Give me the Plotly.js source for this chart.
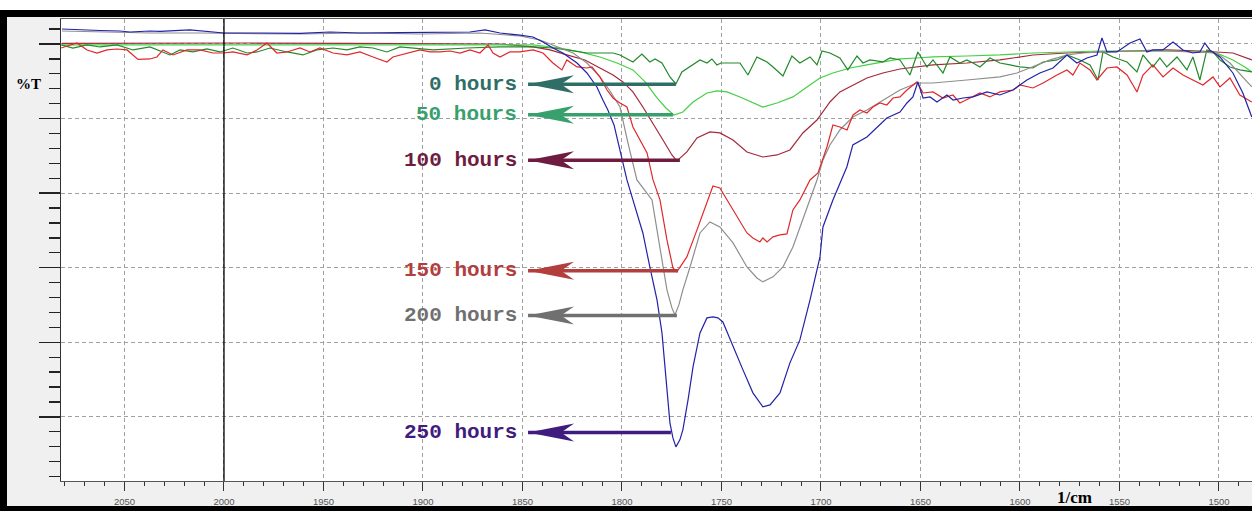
<!DOCTYPE html>
<html>
<head>
<meta charset="utf-8">
<script src="https://cdn.plot.ly/plotly-3.0.1.min.js"></script>
<style>
  html, body { margin:0; padding:0; background:#ffffff; width:1252px; height:511px; overflow:hidden; }
  #wrap { position:absolute; top:10px; left:0; width:1245px; height:489px;
          border-left:7px solid #000; border-top:7px solid #000; border-bottom:5px solid #000; }
  #plot { width:1245px; height:489px; }
</style>
</head>
<body>
<div id="wrap"><div id="plot"></div></div>
<script>
// ---- Data (wavenumber in 1/cm, transmittance in arbitrary %T) ----
const labels = ['0 hours', '50 hours', '100 hours', '150 hours', '200 hours', '250 hours'];

const wn0 = [2081.9,2075.9,2068.8,2062.3,2053.8,2045.7,2037.2,2027.1,2022.1,2015.6,2008.6,2002.0,1995.5,1988.4,1983.4,1976.9,1968.3,1960.3,1953.3,1945.2,1938.2,1931.7,1925.1,1918.1,1911.6,1905.0,1895.0,1877.9,1861.3,1844.7,1834.7,1827.7,1817.6,1811.1,1804.5,1801.0,1794.5,1790.0,1786.0,1783.4,1779.9,1775.9,1772.9,1769.9,1766.8,1760.8,1757.3,1754.8,1752.3,1750.3,1740.7,1736.7,1732.2,1727.1,1724.1,1719.1,1714.6,1710.6,1705.5,1702.0,1699.5,1695.5,1690.5,1686.5,1681.9,1678.9,1675.4,1668.9,1665.3,1660.3,1655.3,1651.3,1646.7,1643.7,1638.7,1635.2,1630.2,1626.7,1623.6,1620.1,1615.1,1610.1,1605.0,1600.0,1593.5,1588.4,1581.4,1576.4,1569.9,1564.8,1560.8,1558.3,1553.3,1546.2,1541.2,1538.2,1533.2,1529.7,1526.2,1521.1,1516.1,1513.1,1509.6,1506.1,1503.0,1499.5,1494.5,1489.5,1483.5];
const t0  = [89.87,89.46,89.87,89.60,89.87,89.20,89.60,88.53,89.20,88.93,89.33,88.93,89.46,88.79,88.93,89.46,88.93,88.53,89.20,89.46,89.20,89.60,89.46,88.93,89.60,89.46,89.20,89.46,89.60,89.60,89.46,89.20,88.79,88.79,88.79,88.53,87.59,88.66,87.59,87.99,87.45,85.58,84.64,86.25,86.78,87.86,87.45,87.99,87.19,87.45,87.45,85.84,88.26,87.59,86.92,85.71,88.39,87.45,88.26,87.19,89.06,88.79,88.12,86.52,88.39,87.45,87.86,87.59,88.12,87.86,85.84,88.93,86.92,87.86,86.11,88.26,87.45,87.86,87.45,86.92,88.12,87.45,87.19,86.92,86.78,87.59,87.86,88.53,87.86,87.19,85.17,88.93,88.26,87.59,86.25,88.53,86.92,88.12,86.92,88.26,86.52,88.26,85.17,89.20,88.93,87.86,86.92,86.52,86.25];

const wn50 = [2081.4,2012.1,1911.6,1844.7,1831.2,1821.1,1811.1,1802.5,1794.5,1788.4,1782.4,1777.9,1773.9,1769.4,1764.3,1757.3,1752.3,1747.2,1740.7,1734.2,1729.2,1722.1,1714.1,1707.0,1700.5,1694.0,1685.4,1676.9,1668.9,1660.3,1651.8,1643.7,1626.7,1610.1,1593.5,1576.4,1559.8,1543.2,1526.2,1509.6,1501.1,1493.0,1487.0,1483.5];
const t50  = [89.87,89.87,89.87,89.87,89.46,88.93,88.26,87.45,86.52,84.91,82.76,81.42,80.48,80.88,82.22,83.43,83.70,83.57,82.90,82.09,81.55,82.09,82.90,84.24,85.44,86.11,86.78,87.19,87.59,87.99,88.12,88.26,88.39,88.53,88.79,88.93,89.06,89.06,89.06,88.93,88.79,87.86,86.92,86.25];

const wn100 = [2081.4,2037.2,1987.0,1936.7,1886.4,1861.3,1844.7,1836.2,1827.7,1818.6,1811.1,1804.5,1799.5,1794.5,1789.5,1784.4,1779.4,1774.9,1772.4,1767.4,1762.3,1755.8,1750.8,1744.2,1737.2,1729.2,1722.1,1715.6,1709.1,1702.0,1695.5,1690.5,1683.9,1676.9,1668.9,1660.3,1643.7,1626.7,1610.1,1593.5,1576.4,1559.8,1543.2,1526.2,1509.6,1501.1,1493.0,1483.5];
const t100  = [90.07,90.13,90.13,90.07,90.07,90.00,89.60,89.20,88.53,87.86,86.78,85.84,84.91,83.57,81.55,79.41,77.13,75.12,74.32,75.52,77.40,78.20,78.07,77.13,75.52,74.85,75.12,75.79,78.07,79.81,82.22,83.57,84.50,85.44,86.11,86.65,87.19,87.45,87.86,88.52,88.79,88.93,89.06,89.20,89.06,88.93,88.79,87.86];

const wn150 = [2081.9,2077.4,2073.9,2068.8,2063.8,2058.8,2053.8,2048.7,2043.2,2037.2,2033.7,2030.7,2025.6,2018.6,2012.1,2005.5,2000.5,1995.5,1988.4,1983.4,1978.4,1973.4,1968.3,1961.8,1956.8,1951.8,1945.2,1938.2,1931.7,1925.1,1918.1,1915.1,1908.0,1901.5,1896.5,1891.5,1886.4,1881.4,1876.4,1871.4,1867.3,1864.8,1861.3,1856.3,1851.3,1844.7,1839.7,1834.7,1830.2,1827.7,1822.6,1817.6,1815.1,1811.1,1807.5,1804.5,1801.0,1797.5,1794.5,1787.4,1784.4,1780.9,1777.4,1774.4,1772.4,1770.4,1767.4,1762.3,1757.3,1754.3,1750.8,1747.2,1744.2,1737.2,1734.2,1730.7,1729.2,1727.1,1724.1,1720.6,1717.1,1714.1,1710.6,1705.5,1701.5,1697.0,1694.0,1690.5,1686.9,1683.9,1680.4,1676.9,1673.9,1670.4,1666.9,1663.8,1660.3,1656.8,1651.8,1648.7,1643.7,1638.7,1633.7,1630.2,1625.1,1620.1,1615.1,1610.1,1603.5,1600.0,1593.5,1588.4,1581.4,1576.4,1573.4,1569.9,1564.8,1561.3,1556.3,1551.3,1546.2,1541.2,1538.2,1533.2,1528.1,1523.1,1518.1,1513.1,1508.1,1503.0,1499.5,1494.5,1489.5,1483.5];
const t150  = [89.46,89.87,90.13,89.20,88.79,89.20,89.33,89.20,87.94,87.99,88.26,89.20,88.53,89.20,89.20,88.79,88.79,88.93,88.53,89.20,90.13,88.79,88.93,89.46,88.93,89.46,88.79,88.53,88.93,88.26,87.59,88.26,88.79,89.20,88.93,88.93,89.06,88.79,89.20,88.79,89.87,88.79,88.26,88.93,88.93,89.20,88.79,87.45,86.52,87.86,86.92,86.78,86.92,85.58,83.83,82.76,82.09,81.55,78.87,75.39,71.77,69.09,63.73,59.97,59.44,60.24,61.45,65.07,68.69,70.96,70.70,69.09,67.75,64.66,63.99,63.46,63.99,63.46,64.13,64.40,64.53,67.75,69.09,71.77,72.71,76.19,79.14,78.87,78.47,80.48,81.15,80.75,81.55,82.09,81.82,82.76,82.90,83.83,84.91,83.43,83.57,82.76,83.16,82.09,82.76,83.43,82.90,83.57,83.83,84.50,84.10,84.77,85.84,86.51,85.84,87.45,86.51,85.17,86.78,86.92,85.84,83.57,85.84,87.19,85.58,86.78,85.84,85.17,84.50,85.58,84.24,85.44,83.16,82.22];

const wn200 = [2081.4,2062.3,2037.2,2012.1,1981.9,1961.8,1931.7,1901.5,1871.4,1851.3,1841.2,1832.7,1824.6,1817.6,1811.1,1806.0,1801.0,1797.0,1792.5,1784.9,1780.9,1777.4,1774.9,1773.4,1771.4,1769.4,1765.8,1760.8,1755.8,1750.8,1744.2,1737.2,1732.2,1729.2,1724.1,1719.1,1714.1,1709.1,1705.5,1702.0,1699.0,1695.5,1690.5,1684.0,1676.9,1668.9,1660.3,1651.8,1643.7,1626.7,1610.1,1601.5,1593.5,1584.9,1576.4,1568.4,1559.8,1543.2,1526.2,1509.6,1501.1,1494.5,1488.0,1483.5];
const t200  = [91.74,91.61,91.47,91.47,91.34,91.34,91.47,91.34,91.47,91.07,90.54,89.60,88.79,87.45,85.58,83.70,81.55,76.73,71.77,69.09,62.38,57.02,54.61,53.67,55.01,57.02,60.10,64.66,66.14,65.47,63.32,60.10,58.63,58.10,58.77,60.10,62.79,66.39,69.09,71.77,74.45,76.46,78.47,80.21,81.15,82.49,83.83,84.77,84.77,85.17,85.58,86.11,86.92,87.86,88.52,88.79,88.93,89.06,89.06,88.93,88.79,87.45,85.58,84.24];

const wn250 = [2081.4,2072.4,2062.3,2052.3,2047.2,2037.2,2032.2,2017.1,2000.0,1981.9,1961.8,1946.7,1931.7,1911.6,1895.0,1876.4,1868.8,1861.3,1851.3,1844.7,1839.7,1834.7,1829.7,1822.6,1817.6,1812.6,1809.6,1807.1,1804.0,1801.0,1797.5,1794.5,1789.5,1786.0,1782.4,1779.9,1778.4,1776.9,1775.9,1774.4,1772.9,1770.9,1769.4,1766.8,1764.3,1760.8,1757.3,1754.3,1751.8,1749.3,1744.2,1739.2,1734.2,1729.2,1725.6,1720.6,1715.6,1710.6,1705.5,1700.5,1699.0,1694.0,1687.0,1684.0,1676.9,1671.9,1666.9,1660.3,1656.8,1653.8,1651.3,1648.7,1645.2,1641.7,1636.7,1633.6,1628.6,1623.6,1616.6,1610.1,1603.5,1596.5,1590.0,1583.4,1576.4,1571.4,1566.4,1561.3,1558.8,1556.3,1551.3,1544.7,1539.7,1536.2,1533.2,1528.2,1523.1,1518.1,1513.1,1509.6,1507.1,1504.6,1499.5,1493.0,1488.0,1483.5];
const t250  = [92.01,91.88,91.81,91.74,91.61,91.74,91.68,91.88,91.47,91.47,91.41,91.61,91.47,91.51,91.51,91.61,91.88,91.47,91.19,90.94,90.27,89.47,88.79,87.45,86.11,84.24,82.49,81.15,79.14,75.79,71.77,69.09,64.66,60.10,55.68,51.26,46.70,42.28,39.20,37.18,35.98,36.92,38.26,42.28,46.70,51.26,53.27,53.40,53.27,52.73,49.38,46.30,43.22,41.34,41.61,43.22,47.24,50.32,55.68,61.45,65.47,69.09,73.51,76.46,77.53,78.87,80.08,80.88,82.09,82.90,84.91,82.76,82.90,82.22,83.16,82.49,82.76,82.90,83.57,83.16,83.83,85.17,86.11,86.78,88.52,87.45,88.12,88.52,90.80,88.93,88.93,90.13,90.67,88.93,89.20,89.20,90.27,89.20,88.79,88.93,90.13,89.20,88.26,86.11,83.43,80.21];

// Arrow/label anchoring: level of each arrow, and the band minimum it starts from
const arrowLevel = [84.6, 80.5, 74.4, 59.6, 53.6, 37.9];
const arrowFrom  = [1772.9, 1774.4, 1770.9, 1771.9, 1772.4, 1775.4];
const arrowTo    = 1847.2;
const cursorWn   = 2000;

// ---- Styles ----
const lineColors  = ['#23892a', '#45cf45', '#a32a3c', '#e0282c', '#8e8e8e', '#2222a8'];
const labelColors = ['#2f6e66', '#38a06c', '#6e1c40', '#b23e3e', '#707070', '#3f1c7e'];

const series = [
  [wn100, t100], [wn50, t50], [wn0, t0], [wn200, t200], [wn150, t150], [wn250, t250]
];
const seriesIdx = [2, 1, 0, 4, 3, 5];

const traces = series.map((s, k) => ({
  x: s[0], y: s[1], type: 'scatter', mode: 'lines',
  line: { color: lineColors[seriesIdx[k]], width: 1.2 },
  name: labels[seriesIdx[k]], hoverinfo: 'skip'
}));

const shapes = [
  { type:'line', xref:'x', yref:'paper', x0:cursorWn, x1:cursorWn, y0:0, y1:1,
    line:{ color:'#000', width:1.3 } }
];
const annotations = [];
labels.forEach((lab, i) => {
  shapes.push({ type:'line', xref:'x', yref:'y', x0:arrowTo, x1:arrowFrom[i],
    y0:arrowLevel[i], y1:arrowLevel[i], line:{ color:labelColors[i], width:3.5 } });
  shapes.push({ type:'path', xref:'x', yref:'y', xsizemode:'pixel', ysizemode:'pixel',
    xanchor:arrowTo, yanchor:arrowLevel[i], path:'M0,0 L46,-9 L33,0 L46,9 Z',
    fillcolor:labelColors[i], line:{ width:0 } });
  annotations.push({ x:arrowTo, y:arrowLevel[i], xref:'x', yref:'y', text:lab,
    showarrow:false, xanchor:'right', yanchor:'middle', xshift:-9,
    font:{ family:'Liberation Mono, Courier New, monospace', size:21, weight:700, color:labelColors[i] } });
});
annotations.push({ xref:'paper', yref:'y', x:-0.0277, y:84.6, text:'%T', showarrow:false,
  xanchor:'center', yanchor:'middle',
  font:{ family:'Liberation Serif, Times New Roman, serif', size:15, weight:700, color:'#000' } });
annotations.push({ xref:'x', yref:'paper', x:1572.4, y:-0.035, text:'1/cm', showarrow:false,
  xanchor:'center', yanchor:'middle',
  font:{ family:'Liberation Serif, Times New Roman, serif', size:17, weight:700, color:'#000' } });

const layout = {
  width:1245, height:489,
  margin:{ l:54, r:0, t:2, b:25 },
  paper_bgcolor:'#f0f0f0', plot_bgcolor:'#ffffff',
  showlegend:false,
  xaxis:{
    range:[2081.9, 1483.4], tick0:2000, dtick:50,
    showgrid:true, gridcolor:'#a0a0a0', griddash:'4px,3px', gridwidth:1,
    zeroline:false, showline:true, linecolor:'#555', linewidth:1, mirror:true,
    ticks:'outside', ticklen:9, tickwidth:1, tickcolor:'#333',
    ticklabelstandoff:3,
    tickfont:{ family:'Liberation Sans, Arial, sans-serif', size:9.5, color:'#555' },
    minor:{ dtick:10, ticks:'outside', ticklen:4, tickwidth:1, tickcolor:'#333', showgrid:false }
  },
  yaxis:{
    range:[31.40, 93.35], tick0:0, dtick:10,
    showgrid:true, gridcolor:'#a0a0a0', griddash:'4px,3px', gridwidth:1,
    zeroline:false, showline:true, linecolor:'#333', linewidth:1,
    ticks:'outside', ticklen:21, tickwidth:1.3, tickcolor:'#222',
    showticklabels:false,
    minor:{ dtick:2, ticks:'outside', ticklen:11, tickwidth:1.3, tickcolor:'#222', showgrid:false }
  },
  shapes: shapes,
  annotations: annotations
};

Plotly.newPlot('plot', traces, layout, { displayModeBar:false, staticPlot:true });
</script>
</body>
</html>
